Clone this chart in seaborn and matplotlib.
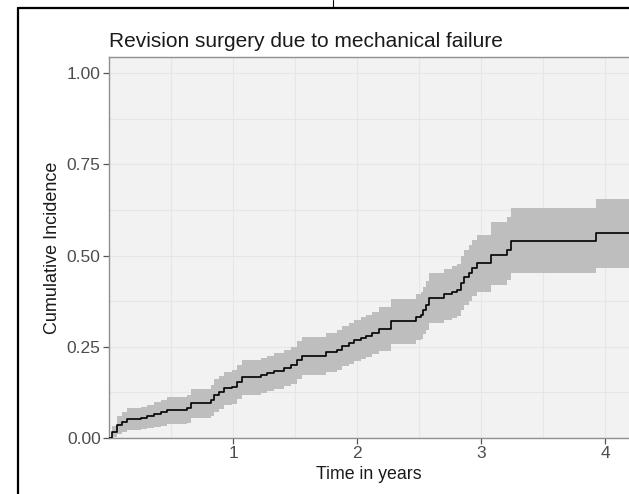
import numpy as np
import pandas as pd
import matplotlib
matplotlib.use("Agg")
import matplotlib.pyplot as plt
from matplotlib.lines import Line2D
import seaborn as sns

# step times (years) and cumulative incidence with 95% band
time = [0.000, 0.024, 0.065, 0.105, 0.145, 0.258, 0.306, 0.363, 0.419, 0.468,
        0.629, 0.661, 0.823, 0.847, 0.887, 0.927, 0.992, 1.032, 1.073, 1.226,
        1.274, 1.331, 1.411, 1.468, 1.516, 1.556, 1.750, 1.839, 1.879, 1.935,
        1.976, 2.032, 2.073, 2.121, 2.177, 2.274, 2.476, 2.516, 2.532, 2.556,
        2.581, 2.702, 2.766, 2.806, 2.839, 2.863, 2.903, 2.927, 2.968, 3.081,
        3.210, 3.242, 3.927, 4.300]
incidence = [0.000, 0.016, 0.036, 0.044, 0.052, 0.055, 0.060, 0.066, 0.071, 0.077,
             0.082, 0.096, 0.104, 0.118, 0.126, 0.137, 0.140, 0.153, 0.167, 0.173,
             0.178, 0.184, 0.192, 0.200, 0.214, 0.225, 0.236, 0.241, 0.252, 0.260,
             0.268, 0.274, 0.279, 0.288, 0.299, 0.321, 0.332, 0.337, 0.351, 0.364,
             0.384, 0.395, 0.400, 0.405, 0.425, 0.441, 0.452, 0.466, 0.479, 0.501,
             0.515, 0.540, 0.562, 0.562]
lower = [0.000, 0.004, 0.012, 0.017, 0.022, 0.024, 0.027, 0.031, 0.034, 0.039,
         0.042, 0.054, 0.060, 0.072, 0.080, 0.090, 0.093, 0.106, 0.119, 0.124,
         0.129, 0.135, 0.142, 0.149, 0.162, 0.172, 0.182, 0.187, 0.197, 0.204,
         0.211, 0.217, 0.221, 0.229, 0.239, 0.258, 0.268, 0.272, 0.284, 0.296,
         0.314, 0.324, 0.328, 0.333, 0.351, 0.365, 0.375, 0.388, 0.400, 0.420,
         0.432, 0.452, 0.466, 0.466]
upper = [0.000, 0.032, 0.060, 0.071, 0.081, 0.085, 0.091, 0.099, 0.105, 0.112,
         0.119, 0.135, 0.145, 0.161, 0.170, 0.182, 0.185, 0.199, 0.214, 0.220,
         0.226, 0.233, 0.241, 0.250, 0.265, 0.277, 0.289, 0.295, 0.306, 0.315,
         0.324, 0.331, 0.336, 0.346, 0.358, 0.382, 0.394, 0.400, 0.415, 0.430,
         0.452, 0.464, 0.470, 0.476, 0.498, 0.516, 0.528, 0.543, 0.557, 0.592,
         0.605, 0.630, 0.655, 0.655]

df = pd.DataFrame({"time": time, "incidence": incidence, "lower": lower, "upper": upper})

sns.set_theme(style="white")
plt.rcParams['font.family'] = ['Liberation Sans', 'DejaVu Sans']

fig = plt.figure(figsize=(6.29, 4.94), dpi=100)
W, H = 629, 494
ax = fig.add_axes([109 / W, (H - 438) / H, (W - 109) / W, (438 - 57) / H])
ax.set_facecolor('#F2F2F2')

ax.fill_between(df["time"], df["lower"], df["upper"], step='post',
                color='#BEBEBE', linewidth=0, zorder=2)
sns.lineplot(data=df, x="time", y="incidence", drawstyle='steps-post',
             color='black', linewidth=1.2, ax=ax, zorder=3)

ax.set_xlim(0, 4.19)
ax.set_ylim(0, 1.044)
ax.set_xticks([1, 2, 3, 4])
ax.set_xticks([0.5, 1.5, 2.5, 3.5], minor=True)
ax.set_yticks([0, 0.25, 0.5, 0.75, 1.0])
ax.set_yticks([0.125, 0.375, 0.625, 0.875], minor=True)
ax.set_yticklabels(['0.00', '0.25', '0.50', '0.75', '1.00'])
ax.grid(True, which='both', color='#E6E6E6', linewidth=0.8, zorder=0)
ax.set_axisbelow(True)

for s in ['left', 'top', 'bottom']:
    ax.spines[s].set_color('#8F8F8F')
    ax.spines[s].set_linewidth(1.0)
ax.spines['right'].set_visible(False)

ax.tick_params(axis='both', which='major', direction='out', length=4, width=0.9,
               color='#555555', labelcolor='#4D4D4D', labelsize=12.5, pad=2)
ax.tick_params(axis='both', which='minor', length=0)
ax.tick_params(bottom=True, left=True)

ax.set_xlabel("Time in years", fontsize=12.8, color='#1A1A1A', labelpad=3)
ax.set_ylabel("Cumulative Incidence", fontsize=13, color='#1A1A1A', labelpad=4)
ax.set_title("Revision surgery due to mechanical failure", loc='left',
             fontsize=15, color='#1A1A1A', pad=7)

# border of the surrounding cell in the screenshot
fig.add_artist(Line2D([18 / W, 18 / W], [0, 1 - 8 / H], color='black', linewidth=1.6))
fig.add_artist(Line2D([18 / W, 1], [1 - 8 / H, 1 - 8 / H], color='black', linewidth=1.6))
fig.add_artist(Line2D([333 / W, 333 / W], [1 - 8 / H, 1], color='black', linewidth=0.8))

fig.savefig("out.png", dpi=100, facecolor='white')
